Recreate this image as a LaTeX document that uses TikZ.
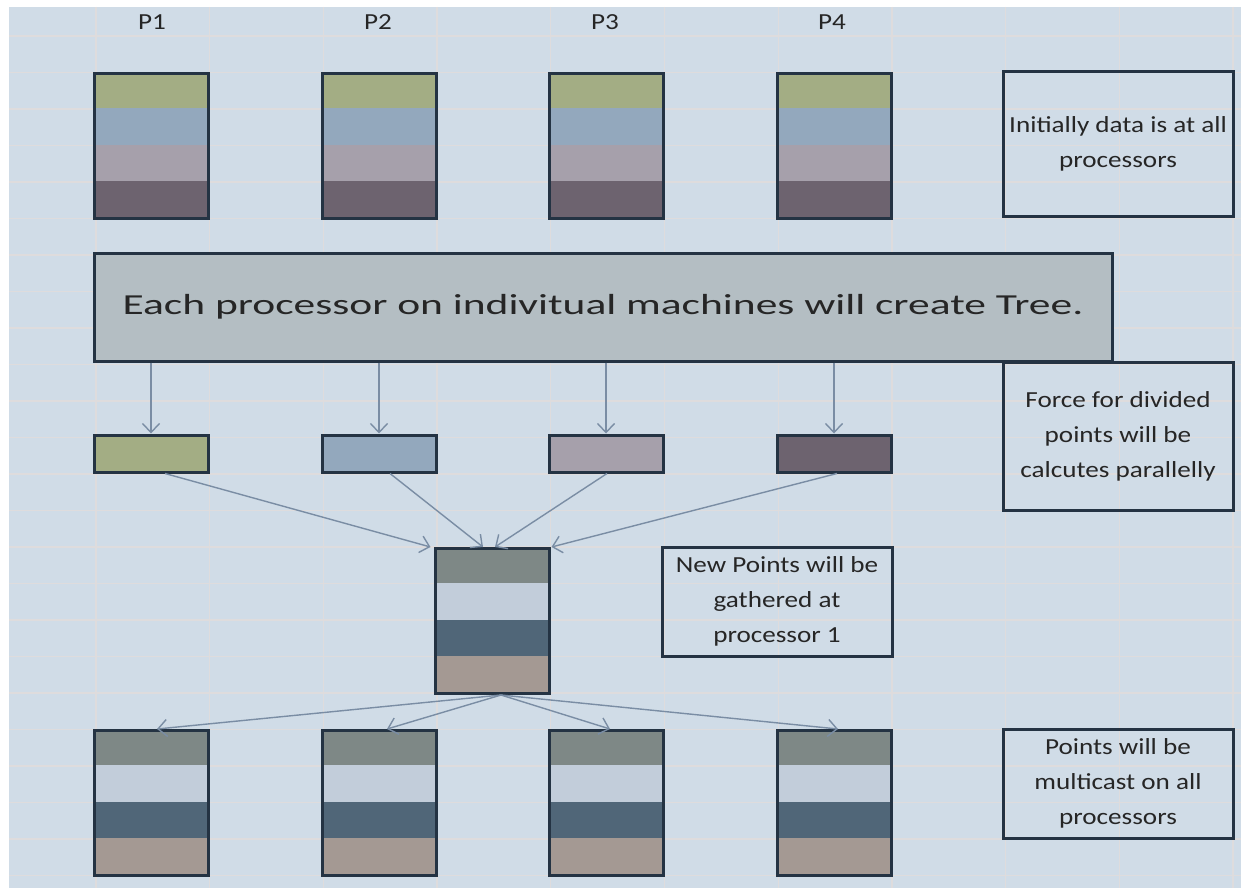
\documentclass[tikz,border=0pt]{standalone}
\usepackage{fontspec}
\setmainfont{Carlito}
\newfontfamily\notefont[FakeStretch=1.18]{Carlito}
\newfontfamily\bannerfont[FakeStretch=1.5]{Carlito}
\usetikzlibrary{arrows.meta,calc}

\definecolor{sheet}{HTML}{D0DCE7}
\definecolor{gridc}{HTML}{DEDCDD}
\definecolor{edge}{HTML}{243343}
\definecolor{arrc}{HTML}{7A8DA4}
\definecolor{txt}{HTML}{262626}
\definecolor{treefill}{HTML}{B4BEC3}
% original data blocks
\definecolor{dA}{HTML}{A3AD84}
\definecolor{dB}{HTML}{93A8BD}
\definecolor{dC}{HTML}{A6A0AB}
\definecolor{dD}{HTML}{6D636F}
% updated point blocks
\definecolor{nA}{HTML}{7E8886}
\definecolor{nB}{HTML}{C2CDDA}
\definecolor{nC}{HTML}{506678}
\definecolor{nD}{HTML}{A49993}

\tikzset{
  box/.style={draw=edge, line width=3pt, inner sep=0pt, rectangle},
  note/.style={box, minimum width=230pt, align=center, text=txt,
               font=\notefont\fontsize{23}{35}\selectfont},
  plabel/.style={text=txt, font=\notefont\fontsize{23}{26}\selectfont},
  arr/.style={draw=arrc, line width=1.4pt,
              -{Straight Barb[length=9pt,width=17pt,line width=1.4pt]}},
}

% four-band data stack: name, centre x, top y, four colours
\newcommand{\bandstack}[7]{%
  \fill[#4] (#2-57,#3) rectangle (#2+57,#3+36.25);
  \fill[#5] (#2-57,#3+36.25) rectangle (#2+57,#3+72.5);
  \fill[#6] (#2-57,#3+72.5) rectangle (#2+57,#3+108.75);
  \fill[#7] (#2-57,#3+108.75) rectangle (#2+57,#3+145);
  \node[box, minimum width=114pt, minimum height=145pt, anchor=north]
    (#1) at (#2,#3) {};%
}

\begin{document}
\begin{tikzpicture}[x=1pt, y=-1pt]
  \useasboundingbox (0,0) rectangle (1241,888);
  \fill[white] (0,0) rectangle (1241,888);
  \fill[sheet] (9,7) rectangle (1241,888);

  % worksheet cell grid
  \foreach \k in {0,...,10}
    \draw[gridc, line width=1.3pt] (96+113.7*\k,7) -- (96+113.7*\k,888);
  \foreach \k in {0,...,23}
    \draw[gridc, line width=1.3pt] (9,36+36.5*\k) -- (1241,36+36.5*\k);

  % processor labels
  \node[plabel] (p1) at (152,22) {P1};
  \node[plabel] (p2) at (378,22) {P2};
  \node[plabel] (p3) at (605,22) {P3};
  \node[plabel] (p4) at (832,22) {P4};

  % initial data on every processor
  \bandstack{t1}{151}{72}{dA}{dB}{dC}{dD}
  \bandstack{t2}{379}{72}{dA}{dB}{dC}{dD}
  \bandstack{t3}{606}{72}{dA}{dB}{dC}{dD}
  \bandstack{t4}{834}{72}{dA}{dB}{dC}{dD}

  \node[note, minimum height=144pt] (n1) at (1118,144)
    {Initially data is at all\\processors};

  % tree construction
  \node[box, fill=treefill, minimum width=1018pt, minimum height=108pt,
        text=txt, font=\bannerfont\fontsize{29}{36}\selectfont] (tree) at (603,307)
    {Each processor on indivitual machines will create Tree.};

  % divided points
  \node[box, fill=dA, minimum width=114pt, minimum height=37pt] (s1) at (151,453.5) {};
  \node[box, fill=dB, minimum width=114pt, minimum height=37pt] (s2) at (379,453.5) {};
  \node[box, fill=dC, minimum width=114pt, minimum height=37pt] (s3) at (606,453.5) {};
  \node[box, fill=dD, minimum width=114pt, minimum height=37pt] (s4) at (834,453.5) {};

  \node[note, minimum height=148pt] (n2) at (1118,436)
    {Force for divided\\points will be\\calcutes parallelly};

  \foreach \s in {s1,s2,s3,s4}
    \draw[arr] (\s.north |- tree.south) -- (\s.north);

  % gathered at processor 1
  \bandstack{g}{492}{547}{nA}{nB}{nC}{nD}

  \node[note, minimum height=109pt] (n3) at (777,601.5)
    {New Points will be\\gathered at\\processor 1};

  \draw[arr] ($(s1.south)+(14,0)$) -- ($(g.north west)+(-3,0)$);
  \draw[arr] ($(s2.south)+(11,0)$) -- ($(g.north)+(-9,0)$);
  \draw[arr] ($(s3.south)+(1,0)$) -- ($(g.north)+(3,0)$);
  \draw[arr] ($(s4.south)+(3,0)$) -- ($(g.north east)+(1,0)$);

  % multicast to every processor
  \bandstack{b1}{151}{729}{nA}{nB}{nC}{nD}
  \bandstack{b2}{379}{729}{nA}{nB}{nC}{nD}
  \bandstack{b3}{606}{729}{nA}{nB}{nC}{nD}
  \bandstack{b4}{834}{729}{nA}{nB}{nC}{nD}

  \node[note, minimum height=109pt] (n4) at (1118,783.5)
    {Points will be\\multicast on all\\processors};

  \coordinate (src) at ($(g.south)+(9,0)$);
  \draw[arr] (src) -- ($(b1.north)+(6,0)$);
  \draw[arr] (src) -- ($(b2.north)+(8,0)$);
  \draw[arr] (src) -- ($(b3.north)+(4,0)$);
  \draw[arr] (src) -- ($(b4.north)+(4,0)$);
\end{tikzpicture}
\end{document}
